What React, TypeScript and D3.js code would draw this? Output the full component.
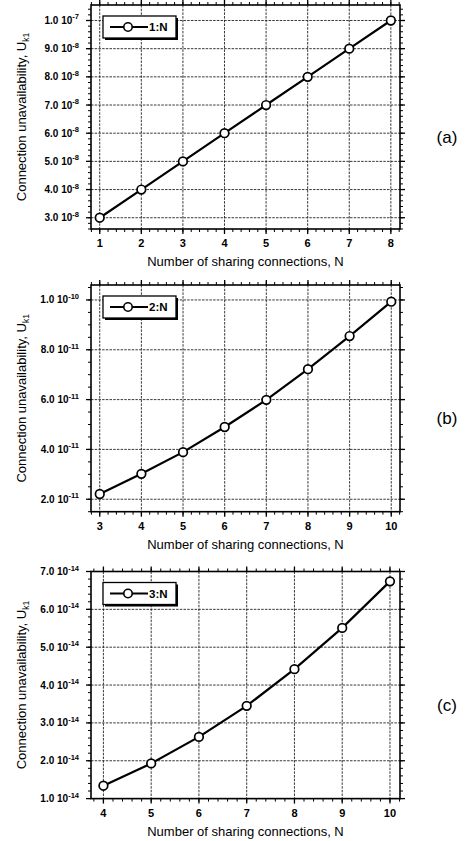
import React from "react";
import * as d3 from "d3";

// ---- data ----
const xA = [1, 2, 3, 4, 5, 6, 7, 8];
const yA = [3.0, 4.0, 5.0, 6.0, 7.0, 8.0, 9.0, 10.0]; // x 1e-8
const xB = [3, 4, 5, 6, 7, 8, 9, 10];
const yB = [2.21, 3.02, 3.89, 4.9, 5.99, 7.22, 8.55, 9.93]; // x 1e-11
const xC = [4, 5, 6, 7, 8, 9, 10];
const yC = [1.34, 1.93, 2.63, 3.45, 4.42, 5.51, 6.74]; // x 1e-14

const ticksYA = [3, 4, 5, 6, 7, 8, 9, 10];
const labelsYA = [["3.0 10", "-8"], ["4.0 10", "-8"], ["5.0 10", "-8"], ["6.0 10", "-8"], ["7.0 10", "-8"], ["8.0 10", "-8"], ["9.0 10", "-8"], ["1.0 10", "-7"]];
const ticksYB = [2, 4, 6, 8, 10];
const labelsYB = [["2.0 10", "-11"], ["4.0 10", "-11"], ["6.0 10", "-11"], ["8.0 10", "-11"], ["1.0 10", "-10"]];
const ticksYC = [1, 2, 3, 4, 5, 6, 7];
const labelsYC = [["1.0 10", "-14"], ["2.0 10", "-14"], ["3.0 10", "-14"], ["4.0 10", "-14"], ["5.0 10", "-14"], ["6.0 10", "-14"], ["7.0 10", "-14"]];

const legendNames = ["1:N", "2:N", "3:N"];
const panelNames = ["(a)", "(b)", "(c)"];

type PanelDef = {
  xs: number[]; ys: number[]; xDom: [number, number]; yDom: [number, number];
  top: number; bottom: number; yTicks: number[]; yLabels: string[][]; yMinor: number;
  legend: string; name: string;
};

const panels: PanelDef[] = [
  { xs: xA, ys: yA, xDom: [0.79, 8.22], yDom: [2.6, 10.55], top: 5, bottom: 229, yTicks: ticksYA, yLabels: labelsYA, yMinor: 0.2, legend: legendNames[0], name: panelNames[0] },
  { xs: xB, ys: yB, xDom: [2.79, 10.21], yDom: [1.5, 10.6], top: 285, bottom: 511.7, yTicks: ticksYB, yLabels: labelsYB, yMinor: 0.5, legend: legendNames[1], name: panelNames[1] },
  { xs: xC, ys: yC, xDom: [3.74, 10.21], yDom: [1.0, 7.0], top: 571.5, bottom: 798.6, yTicks: ticksYC, yLabels: labelsYC, yMinor: 0.2, legend: legendNames[2], name: panelNames[2] },
];

const LEFT = 91;
const RIGHT = 400;
const FONT = "'Liberation Sans', Arial, Helvetica, sans-serif";

function range(a: number, b: number, step: number) {
  const out: number[] = [];
  const n = Math.round((b - a) / step);
  for (let i = 0; i <= n; i++) out.push(+(a + i * step).toFixed(6));
  return out;
}

function Panel({ p }: { p: PanelDef }) {
  const x = d3.scaleLinear().domain(p.xDom).range([LEFT, RIGHT]);
  const y = d3.scaleLinear().domain(p.yDom).range([p.bottom, p.top]);
  const xMajor = p.xs;
  const xMinor = range(Math.ceil(p.xDom[0] / 0.2) * 0.2, p.xDom[1], 0.2).filter(v => v >= p.xDom[0] && v <= p.xDom[1]);
  const yMinor = range(Math.ceil(p.yDom[0] / p.yMinor) * p.yMinor, p.yDom[1], p.yMinor).filter(v => v >= p.yDom[0] && v <= p.yDom[1]);
  const line = d3.line<number>().x((_, i) => x(p.xs[i])).y(d => y(d));
  const midY = (p.top + p.bottom) / 2;
  const lgX = 103, lgY = p.top + 11, lgW = 73, lgH = 22;
  return (
    <g>
      {/* grid */}
      {xMajor.map((v, i) => (
        <line key={"gx" + i} x1={x(v)} x2={x(v)} y1={p.top} y2={p.bottom} stroke="#222" strokeWidth={0.9} strokeDasharray="2.5 1.2" />
      ))}
      {p.yTicks.map((v, i) => (
        <line key={"gy" + i} x1={LEFT} x2={RIGHT} y1={y(v)} y2={y(v)} stroke="#222" strokeWidth={0.9} strokeDasharray="2.5 1.2" />
      ))}
      {/* minor ticks */}
      {xMinor.map((v, i) => (
        <g key={"mx" + i}>
          <line x1={x(v)} x2={x(v)} y1={p.bottom} y2={p.bottom + 3} stroke="#000" strokeWidth={1} />
          <line x1={x(v)} x2={x(v)} y1={p.top} y2={p.top - 3} stroke="#000" strokeWidth={1} />
        </g>
      ))}
      {yMinor.map((v, i) => (
        <g key={"my" + i}>
          <line x1={LEFT} x2={LEFT - 3} y1={y(v)} y2={y(v)} stroke="#000" strokeWidth={1} />
          <line x1={RIGHT} x2={RIGHT + 3} y1={y(v)} y2={y(v)} stroke="#000" strokeWidth={1} />
        </g>
      ))}
      {/* major ticks */}
      {xMajor.map((v, i) => (
        <g key={"Mx" + i}>
          <line x1={x(v)} x2={x(v)} y1={p.bottom} y2={p.bottom + 5} stroke="#000" strokeWidth={1.3} />
          <line x1={x(v)} x2={x(v)} y1={p.top} y2={p.top - 5} stroke="#000" strokeWidth={1.3} />
          <text x={x(v)} y={p.bottom + 18} textAnchor="middle" fontSize={11} fontWeight="bold" fontFamily={FONT}>{v}</text>
        </g>
      ))}
      {p.yTicks.map((v, i) => (
        <g key={"My" + i}>
          <line x1={LEFT} x2={LEFT - 5} y1={y(v)} y2={y(v)} stroke="#000" strokeWidth={1.3} />
          <line x1={RIGHT} x2={RIGHT + 5} y1={y(v)} y2={y(v)} stroke="#000" strokeWidth={1.3} />
          <text x={79} y={y(v) + 3.5} textAnchor="end" fontSize={10} fontWeight="bold" fontFamily={FONT}>
            {p.yLabels[i][0]}
            <tspan fontSize={7.5} dy={-4.5}>{p.yLabels[i][1]}</tspan>
          </text>
        </g>
      ))}
      {/* frame */}
      <rect x={LEFT} y={p.top} width={RIGHT - LEFT} height={p.bottom - p.top} fill="none" stroke="#000" strokeWidth={1.6} />
      {/* data */}
      <path d={line(p.ys) || ""} fill="none" stroke="#000" strokeWidth={2.2} />
      {p.ys.map((v, i) => (
        <circle key={"c" + i} cx={x(p.xs[i])} cy={y(v)} r={4.3} fill="#fff" stroke="#000" strokeWidth={1.7} />
      ))}
      {/* legend */}
      <rect x={lgX + 2} y={lgY + 2} width={lgW} height={lgH} fill="#000" />
      <rect x={lgX} y={lgY} width={lgW} height={lgH} fill="#fff" stroke="#000" strokeWidth={1.3} />
      <line x1={lgX + 7} x2={lgX + 45} y1={lgY + lgH / 2} y2={lgY + lgH / 2} stroke="#000" strokeWidth={2.2} />
      <circle cx={lgX + 25} cy={lgY + lgH / 2} r={4.2} fill="#fff" stroke="#000" strokeWidth={1.6} />
      <text x={lgX + 46} y={lgY + lgH / 2 + 4} fontSize={11.5} fontWeight="bold" fontFamily={FONT}>{p.legend}</text>
      {/* axis titles */}
      <text x={(LEFT + RIGHT) / 2} y={p.bottom + 37} textAnchor="middle" fontSize={13} fontFamily={FONT}>Number of sharing connections, N</text>
      <text transform={`translate(26,${midY}) rotate(-90)`} textAnchor="middle" fontSize={13} fontFamily={FONT}>
        Connection unavailability, U<tspan fontSize={8.5} dy={3}>k1</tspan>
      </text>
      {/* panel label */}
      <text x={447} y={midY + 26} textAnchor="middle" fontSize={17} fontFamily={FONT}>{p.name}</text>
    </g>
  );
}

export default function App() {
  return (
    <svg width={468} height={841} style={{ position: "absolute", left: 0, top: 0, background: "#fff" }}>
      <rect x={0} y={0} width={468} height={841} fill="#fff" />
      {panels.map((p, i) => <Panel key={i} p={p} />)}
    </svg>
  );
}
